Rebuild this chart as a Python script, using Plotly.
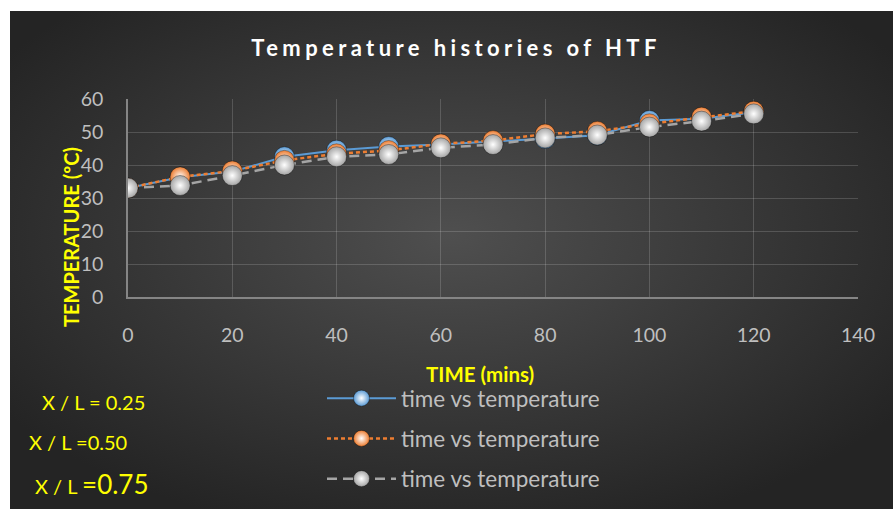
import base64
import plotly.graph_objects as go

time_min = [0, 10, 20, 30, 40, 50, 60, 70, 80, 90, 100, 110, 120]
temp_025 = [33, 36.3, 38, 42.5, 44.5, 45.6, 46.2, 47, 48, 49, 53.5, 54, 56]
temp_050 = [33, 36.4, 38.2, 41.4, 43.4, 44.4, 46.4, 47.4, 49.4, 50.2, 52.5, 54.5, 56.3]
temp_075 = [33, 33.8, 36.8, 40, 42.5, 43.2, 45.2, 46.2, 48.2, 49.1, 51.5, 53.3, 55.5]
series_names = ["time vs temperature", "time vs temperature", "time vs temperature"]
x_ticks = [0, 20, 40, 60, 80, 100, 120, 140]
y_ticks = [0, 10, 20, 30, 40, 50, 60]

W, H = 893, 509
L, R, T, B = 128, 858, 99, 297

def px_x(p):
    return (p - L) / (R - L)

def px_y(p):
    return (B - p) / (B - T)

FONT = "Lato"
YELLOW = "#ffff00"
TICKC = "#bfbfbf"

svg = f'''<svg xmlns="http://www.w3.org/2000/svg" width="{W}" height="{H}" viewBox="0 0 {W} {H}">
<defs><radialGradient id="g" cx="50%" cy="45%" r="62%">
<stop offset="0%" stop-color="#4f4f4f"/><stop offset="100%" stop-color="#242424"/></radialGradient></defs>
<rect x="0" y="0" width="{W}" height="{H}" fill="url(#g)"/></svg>'''
bg_src = "data:image/svg+xml;base64," + base64.b64encode(svg.encode()).decode()

fig = go.Figure()
styles = [
    (temp_025, "#5b9bd5", "solid", 2),
    (temp_050, "#ed7d31", "4px,3px", 2.5),
    (temp_075, "#a5a5a5", "10px,6px", 2.5),
]
for i, (vals, col, dash, lw) in enumerate(styles):
    fig.add_trace(go.Scatter(
        x=time_min, y=vals, name=series_names[i], mode="lines+markers",
        legendgroup=f"g{i}",
        line=dict(color=col, dash=dash, width=lw),
        marker=dict(size=20, color=col, gradient=dict(type="radial", color="#ffffff"),
                    line=dict(color="rgba(0,0,0,0.35)", width=1)),
    ))

fig.update_layout(
    width=W, height=H,
    margin=dict(l=L, r=W - R, t=T, b=H - B, autoexpand=False),
    paper_bgcolor="#ffffff",
    plot_bgcolor="rgba(0,0,0,0)",
    images=[dict(source=bg_src, xref="paper", yref="paper",
                 x=px_x(10), y=px_y(11), sizex=px_x(W) - px_x(10), sizey=px_y(11) - px_y(H),
                 xanchor="left", yanchor="top", sizing="stretch", layer="below")],
    title=dict(text='<b><span style="letter-spacing:4.4px">Temperature histories of HTF</span></b>',
               x=456 / W, y=1 - 48 / H, xanchor="center", yanchor="middle",
               font=dict(family=FONT, size=22, color="#ffffff")),
    xaxis=dict(range=[0, 140], tickvals=x_ticks, showgrid=True, gridcolor="rgba(255,255,255,0.16)",
               gridwidth=1, showline=True, linecolor="#858585", linewidth=1.5, zeroline=False,
               ticks="outside", ticklen=20, tickcolor="rgba(0,0,0,0)",
               tickfont=dict(family=FONT, size=19.5, color=TICKC)),
    yaxis=dict(range=[0, 60], tickvals=y_ticks, showgrid=True, gridcolor="rgba(255,255,255,0.16)",
               gridwidth=1, showline=True, linecolor="#858585", linewidth=1.5, zeroline=False,
               ticks="outside", ticklen=19, tickcolor="rgba(0,0,0,0)",
               tickfont=dict(family=FONT, size=19.5, color=TICKC)),
    legend=dict(x=px_x(322), y=px_y(377), xanchor="left", yanchor="top",
                bgcolor="rgba(0,0,0,0)", tracegroupgap=8, itemwidth=69,
                font=dict(family=FONT, size=22.5, color=TICKC)),
    showlegend=True,
)

annotations = [
    dict(text="<b>TEMPERATURE (ºC)</b>", x=px_x(71), y=px_y(237), textangle=-90,
         font=dict(family=FONT, size=20, color=YELLOW)),
    dict(text="<b>TIME (mins)</b>", x=px_x(480), y=px_y(374),
         font=dict(family=FONT, size=20.5, color=YELLOW)),
    dict(text="X / L = 0.25", x=px_x(40), y=px_y(402), xanchor="left",
         font=dict(family=FONT, size=20, color=YELLOW)),
    dict(text="X / L =0.50", x=px_x(27), y=px_y(442), xanchor="left",
         font=dict(family=FONT, size=20, color=YELLOW)),
    dict(text='X / L <span style="font-size:26px">=0.75</span>', x=px_x(33), y=px_y(484), xanchor="left",
         font=dict(family=FONT, size=20, color=YELLOW)),
]
for a in annotations:
    a.update(xref="paper", yref="paper", showarrow=False)
    a.setdefault("xanchor", "center")
    a.setdefault("yanchor", "middle")
fig.update_layout(annotations=annotations)

fig.write_html("out.html", config={"displayModeBar": False},
               post_script="document.body.style.margin='0';document.body.style.padding='0';")
